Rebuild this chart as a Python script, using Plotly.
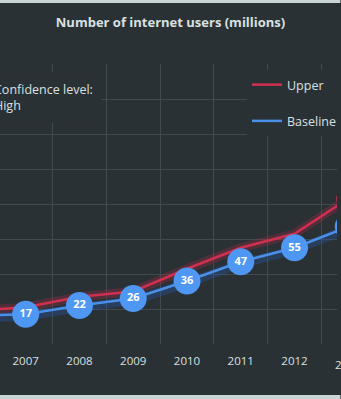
import plotly.graph_objects as go

# Data: internet users (millions)
years = [2006, 2007, 2008, 2009, 2010, 2011, 2012, 2013]
baseline = [16, 17, 22, 26, 36, 47, 55, 67]
upper = [19, 21, 27, 30, 43, 55, 63, 83]
tick_years = [2007, 2008, 2009, 2010, 2011, 2012]
partial_tick_year = 2013

W, H = 341, 399
BG = "#2a3134"
GRID = "#414a4e"
TEXT = "#d9e0e2"
STRIP = "#c9d4d4"
BLUE = "#4a8fe8"
BLUE_MK = "#4e97f3"
RED = "#d0304f"
FONT = "Open Sans"

x_range = [2006.522, 2012.79]
y_range = [0, 160]
mt, mb = 64, 55
plot_h = H - mt - mb

fig = go.Figure()

# soft glow under each line
fig.add_trace(go.Scatter(x=years, y=upper, mode="lines", showlegend=False, hoverinfo="skip",
                         line=dict(color="rgba(200,40,75,0.25)", width=9)))
fig.add_trace(go.Scatter(x=years, y=[v - 1.2 for v in baseline], mode="lines", showlegend=False,
                         hoverinfo="skip", line=dict(color="rgba(40,90,190,0.30)", width=9)))

fig.add_trace(go.Scatter(x=years, y=upper, mode="lines", name="Upper", legendgroup="u",
                         line=dict(color=RED, width=2.5)))
fig.add_trace(go.Scatter(x=years, y=baseline, mode="lines", name="Baseline", legendgroup="b",
                         line=dict(color=BLUE, width=2.5)))

# highlighted end point of the upper series
fig.add_trace(go.Scatter(x=years[-1:], y=upper[-1:], mode="markers", showlegend=False,
                         hoverinfo="skip", marker=dict(color=RED, size=24)))

# labelled baseline points
fig.add_trace(go.Scatter(x=years, y=baseline, mode="markers+text", showlegend=False,
                         text=[str(v) for v in baseline], textposition="middle center",
                         textfont=dict(family=FONT, size=11, color="white", weight="bold"),
                         marker=dict(color=BLUE_MK, size=27, line=dict(width=0))))

# the next year's label sits just past the right edge
partial_x = (partial_tick_year - x_range[0]) / (x_range[1] - x_range[0])

fig.update_layout(
    width=W, height=H,
    margin=dict(l=0, r=0, t=mt, b=mb),
    paper_bgcolor=BG, plot_bgcolor=BG,
    font=dict(family=FONT, color=TEXT),
    title=dict(text="<b>Number of internet users (millions)</b>", x=0.5, xanchor="center",
               y=1 - 22 / H, yanchor="middle", yref="container",
               font=dict(family=FONT, size=13, color=TEXT)),
    showlegend=True,
    legend=dict(x=250 / W, xanchor="left", y=(H - mb - 70) / plot_h, yanchor="top",
                bgcolor=BG, borderwidth=0, font=dict(family=FONT, size=12.5, color=TEXT),
                tracegroupgap=17, traceorder="grouped", itemwidth=30),
    xaxis=dict(range=x_range, tickmode="array", tickvals=tick_years,
               ticktext=[str(y) for y in tick_years], showgrid=False, zeroline=False,
               ticks="", ticklabelstandoff=8, tickfont=dict(family=FONT, size=11.5, color=TEXT),
               minor=dict(tickmode="array", tickvals=[y + 0.5 for y in years],
                          showgrid=True, gridcolor=GRID, gridwidth=1, ticks=""),
               showline=False, fixedrange=True),
    yaxis=dict(range=y_range, dtick=20, showgrid=True, gridcolor=GRID, gridwidth=1,
               showticklabels=False, zeroline=False, ticks="", fixedrange=True),
    annotations=[
        dict(text="Confidence level:<br>High", xref="paper", yref="paper",
             x=103 / W, xanchor="right", y=(H - mb - 72) / plot_h, yanchor="top",
             align="left", showarrow=False, bgcolor=BG, borderpad=8,
             font=dict(family=FONT, size=12.5, color=TEXT)),
        dict(text=str(partial_tick_year), xref="paper", yref="paper", x=partial_x,
             xanchor="center", y=0, yanchor="top", yshift=-11, showarrow=False,
             font=dict(family=FONT, size=11.5, color=TEXT)),
    ],
    shapes=[
        dict(type="rect", xref="paper", yref="paper", x0=-0.01, x1=1.01,
             y0=1 + (mt - 3) / plot_h, y1=1 + (mt + 2) / plot_h,
             fillcolor=STRIP, line=dict(width=0), layer="above"),
        dict(type="rect", xref="paper", yref="paper", x0=-0.01, x1=1.01,
             y0=-(mb - 4) / plot_h, y1=-(mb + 2) / plot_h,
             fillcolor=STRIP, line=dict(width=0), layer="above"),
    ],
)

fig.write_html("out.html")
